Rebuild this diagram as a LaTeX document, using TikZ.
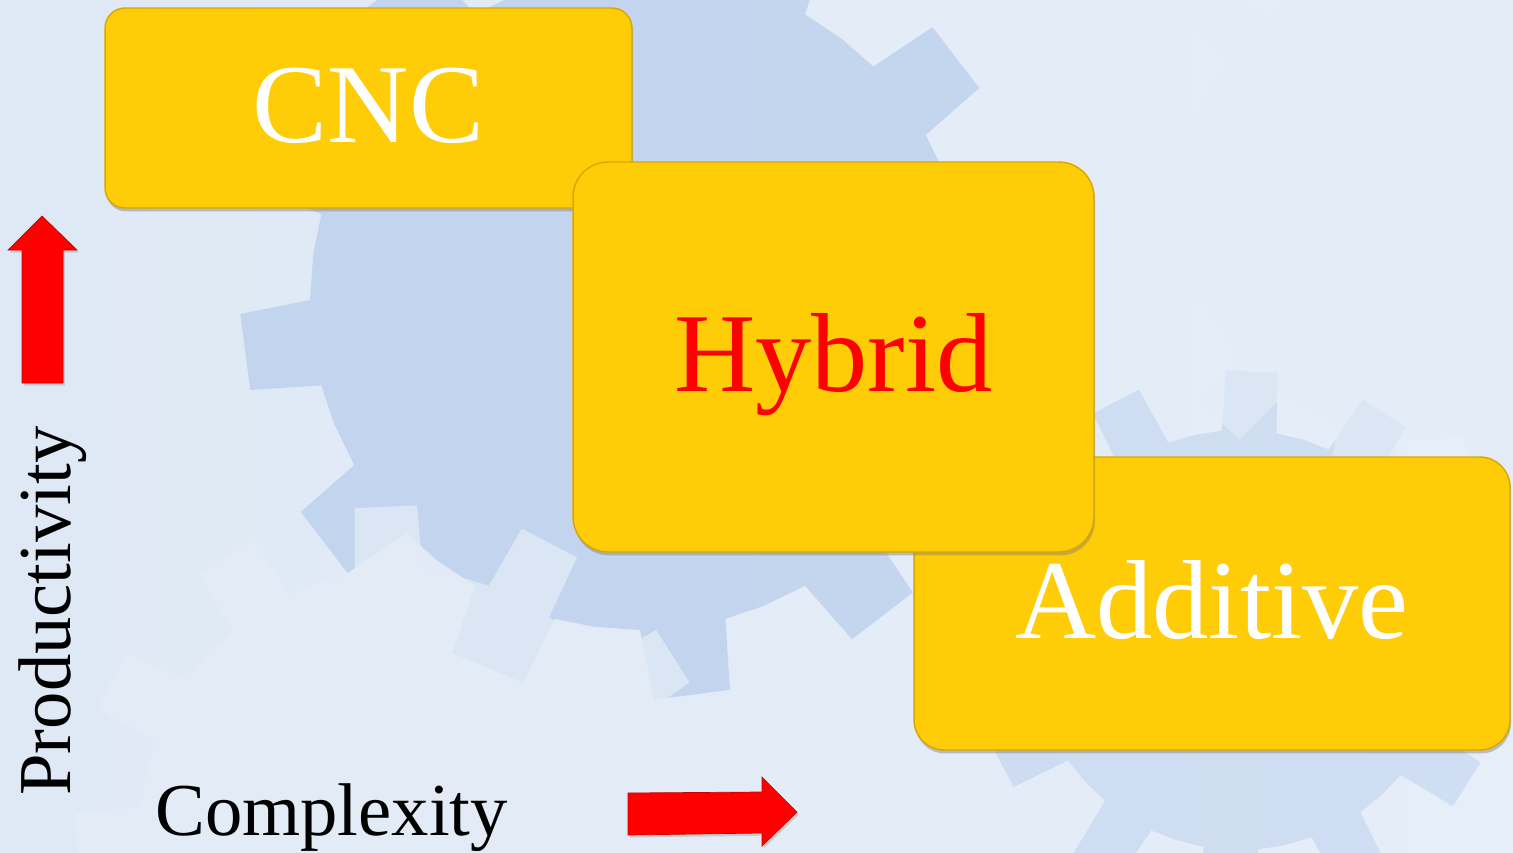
\documentclass[tikz,border=0pt]{standalone}
\usepackage{fontspec}
\setmainfont{Liberation Serif}
\usetikzlibrary{shadows,positioning}

\definecolor{bgleft}{HTML}{DFE9F5}
\definecolor{bgmid}{HTML}{C2D5EE}
\definecolor{bgright}{HTML}{E6EEF8}
\definecolor{gearblue}{HTML}{A6C1E7}
\definecolor{gearpale}{HTML}{E4ECF7}
\definecolor{boxyellow}{HTML}{FFCC08}
\definecolor{boxedge}{HTML}{D9A600}
\definecolor{arrowred}{HTML}{FF0000}

\begin{document}
\begin{tikzpicture}[x=0.02cm,y=-0.02cm]
\tikzstyle{stage}=[rectangle,inner sep=0pt,draw=boxedge,line width=0.8pt,fill=boxyellow,
                   drop shadow={shadow xshift=0.6pt,shadow yshift=-2pt,opacity=0.45}]
\tikzstyle{stagetext}=[font=\fontsize{64}{70}\selectfont,text height=39.7pt,text depth=0pt]
\tikzstyle{axislabel}=[inner sep=0pt,font=\fontsize{42.5}{48}\selectfont,text=black]
\tikzstyle{redarrow}=[fill=arrowred,draw=red!80!black,line width=0.4pt,
                      drop shadow={shadow xshift=1pt,shadow yshift=-1.5pt,opacity=0.3}]

\useasboundingbox (0,0) rectangle (1513,852);
\begin{scope}
\clip (0,0) rectangle (1513,852);
\shade[left color=bgleft,middle color=bgmid,right color=bgright] (0,0) rectangle (1513,852);
% gears in the background
\fill[gearblue,opacity=0.5,shift={(640,300)}] (0:330)
  \foreach \a in {0,30,...,330} {-- ({\a}:330) -- ({\a+8}:330) -- ({\a+15}:330)
    -- ({\a+17}:400) -- ({\a+28}:400) -- ({\a+30}:330)} -- cycle;
\fill[gearblue,opacity=0.35,shift={(1240,640)}] (10:210)
  \foreach \a in {10,40,...,340} {-- ({\a}:210) -- ({\a+8}:210) -- ({\a+15}:210)
    -- ({\a+17}:270) -- ({\a+28}:270) -- ({\a+30}:210)} -- cycle;
\fill[gearpale,opacity=0.75,shift={(400,830)}] (5:260)
  \foreach \a in {5,35,...,335} {-- ({\a}:260) -- ({\a+8}:260) -- ({\a+15}:260)
    -- ({\a+17}:325) -- ({\a+28}:325) -- ({\a+30}:260)} -- cycle;
\fill[gearpale,opacity=0.6,shift={(1420,200)}] (20:240)
  \foreach \a in {20,50,...,350} {-- ({\a}:240) -- ({\a+8}:240) -- ({\a+15}:240)
    -- ({\a+17}:300) -- ({\a+28}:300) -- ({\a+30}:240)} -- cycle;
\end{scope}

\node[stage,rounded corners=0.4cm,minimum width=10.54cm,minimum height=4cm,
      stagetext,text=white] (cnc) at (368.5,108) {CNC};
\node[stage,rounded corners=0.6cm,minimum width=11.92cm,minimum height=5.86cm,
      stagetext,text=white] (additive) at (1212,603.5) {Additive};
\node[stage,rounded corners=0.7cm,minimum width=10.42cm,minimum height=7.8cm,
      stagetext,text=arrowred] (hybrid) at (833.5,357) {Hybrid};

\node[axislabel,anchor=base west] (complexity) at (155,835) {Complexity};
\node[axislabel,rotate=90,anchor=base west] (productivity) at (70,796) {Productivity};

\fill[redarrow] (22,383) -- (22,250) -- (8,250) -- (42,216) -- (77,250) -- (63,250) -- (63,383) -- cycle;
\fill[redarrow] (628,835) -- (628,793) -- (762,792) -- (762,777) -- (797,812) -- (762,846) -- (762,833) -- cycle;
\end{tikzpicture}
\end{document}
